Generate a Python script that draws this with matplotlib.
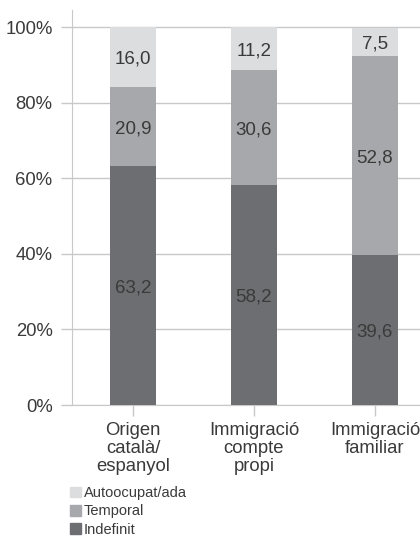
import matplotlib.pyplot as plt
from matplotlib.patches import Patch

plt.rcParams['font.family'] = ['Liberation Sans', 'DejaVu Sans']

# Data (percentages)
categories = ['Origen\ncatalà/\nespanyol', 'Immigració\ncompte\npropi', 'Immigració\nfamiliar']
indefinit = [63.2, 58.2, 39.6]
temporal = [20.9, 30.6, 52.8]
autoocupat = [16.0, 11.2, 7.5]
series_names = ['Indefinit', 'Temporal', 'Autoocupat/ada']
colors = ['#6d6e71', '#a7a8ab', '#dcdddf']
yticks = [0, 20, 40, 60, 80, 100]

fig = plt.figure(figsize=(4.2, 5.4), dpi=100)
ax = fig.add_axes([0.1714, 0.25, 0.8286, 0.7315])

x = list(range(len(categories)))
bottom = [0.0] * len(categories)
for vals, name, col in zip([indefinit, temporal, autoocupat], series_names, colors):
    ax.bar(x, vals, width=0.38, bottom=bottom, color=col, label=name, zorder=3)
    for xi, b, v in zip(x, bottom, vals):
        ax.text(xi, b + v / 2 - 0.6, f'{v:.1f}'.replace('.', ','), ha='center', va='center',
                fontsize=13.5, color='#3a3a3a', zorder=4)
    bottom = [b + v for b, v in zip(bottom, vals)]

ax.set_xlim(-0.504, 2.372)
ax.set_ylim(0, 104.6)
ax.set_yticks(yticks)
ax.set_yticklabels([f'{t}%' for t in yticks])
ax.set_xticks(x)
ax.set_xticklabels(categories, linespacing=1.1)

ax.grid(axis='y', color='#c8c8c8', linewidth=1, zorder=0)
for s in ['top', 'right']:
    ax.spines[s].set_visible(False)
ax.spines['left'].set_color('#c8c8c8')
ax.spines['bottom'].set_color('#c8c8c8')
ax.tick_params(axis='both', colors='#c8c8c8', labelcolor='#3a3a3a', labelsize=13.3,
               length=8, width=1)
ax.tick_params(axis='y', pad=6)
ax.tick_params(axis='x', pad=4)

handles = [Patch(color=c, label=n) for c, n in zip(colors, series_names)][::-1]
fig.legend(handles=handles, loc='upper left', bbox_to_anchor=(0.167, 0.1),
           frameon=False, fontsize=10.5, handlelength=0.75, handleheight=0.75,
           handletextpad=0.2, labelspacing=0.3, borderpad=0, borderaxespad=0,
           labelcolor='#3a3a3a')

fig.savefig('out.png', dpi=100)
